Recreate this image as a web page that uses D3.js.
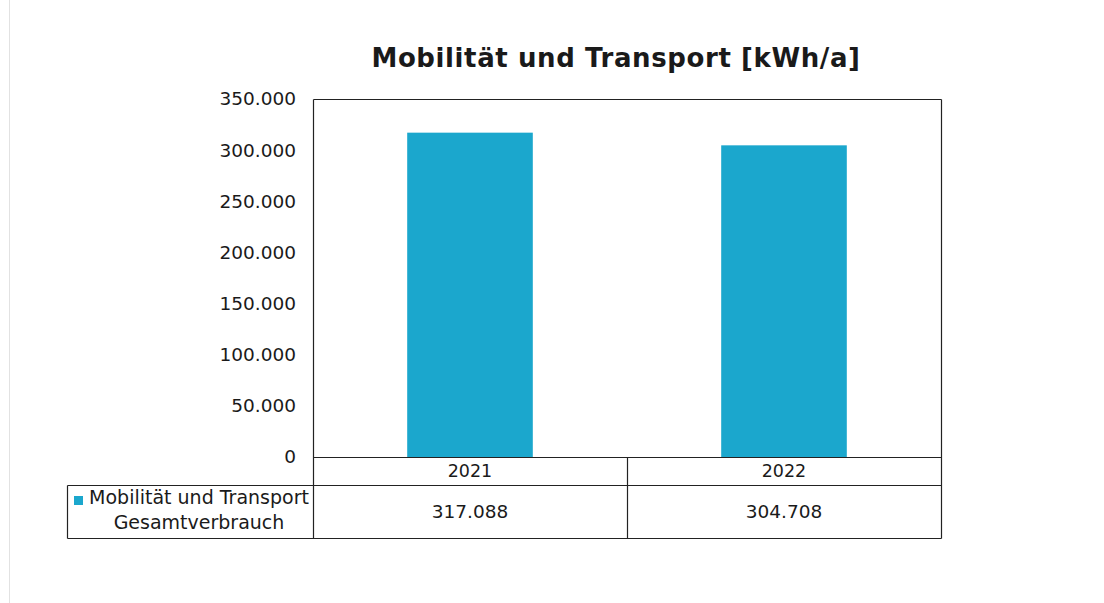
<!DOCTYPE html>
<html>
<head>
<meta charset="utf-8">
<script src="https://cdn.jsdelivr.net/npm/d3@7"></script>
<style>
  body { margin: 0; background: #fff; }
  text { font-family: "DejaVu Sans", Verdana, sans-serif; fill: #1a1a1a; }
</style>
</head>
<body>
<div id="chart"></div>
<script>
var years = ['2021', '2022'];
var values = [317088, 304708];
var seriesName = ['Mobilität und Transport', 'Gesamtverbrauch'];
var yTicks = [0, 50000, 100000, 150000, 200000, 250000, 300000, 350000];
var title = 'Mobilität und Transport [kWh/a]';

var width = 1104, height = 603;
var plot = { left: 313, top: 99, right: 941, bottom: 457 };
var tableLeft = 67, row1 = 485, row2 = 538;
var barColor = '#1ba7cd';

var fmt = function(v) { return d3.format(',')(v).replace(/,/g, '.'); };

var svg = d3.select('#chart').append('svg')
  .attr('width', width)
  .attr('height', height);

// faint page edge of the scan
svg.append('line')
  .attr('x1', 9.5).attr('x2', 9.5).attr('y1', 0).attr('y2', height)
  .style('stroke', '#e2e2e2');

var x = d3.scaleBand().domain(years).range([plot.left, plot.right]).paddingInner(0).paddingOuter(0);
var y = d3.scaleLinear().domain([0, 350000]).range([plot.bottom, plot.top]);

svg.append('text')
  .attr('x', 616).attr('y', 67)
  .attr('text-anchor', 'middle')
  .style('font-size', '26px')
  .style('font-weight', 'bold')
  .style('letter-spacing', '0.6px')
  .text(title);

// bars
var bw = x.bandwidth() * 0.4;
svg.selectAll('.bar')
  .data(values)
  .enter()
  .append('rect')
  .attr('class', 'bar')
  .attr('x', function(d, i) { return x(years[i]) + x.bandwidth() / 2 - bw / 2; })
  .attr('y', function(d) { return y(d); })
  .attr('width', bw)
  .attr('height', function(d) { return y(0) - y(d); })
  .attr('fill', barColor);

// y axis labels
var yAxis = d3.axisLeft(y).tickValues(yTicks).tickSize(0).tickPadding(17).tickFormat(fmt);
var ga = svg.append('g')
  .attr('transform', 'translate(' + plot.left + ',0)')
  .call(yAxis);
ga.select('.domain').remove();
ga.selectAll('text')
  .style('font-size', '18.5px')
  .style('font-family', '"DejaVu Sans", Verdana, sans-serif')
  .attr('fill', '#1a1a1a');

// frame and table lines
var stroke = '#222';
var lines = [
  [plot.left, plot.top, plot.right, plot.top],
  [plot.right, plot.top, plot.right, row2],
  [plot.left, plot.top, plot.left, row2],
  [plot.left, plot.bottom, plot.right, plot.bottom],
  [tableLeft, row1, plot.right, row1],
  [tableLeft, row2, plot.right, row2],
  [tableLeft, row1, tableLeft, row2]
];
years.forEach(function(yr) {
  var xe = x(yr) + x.bandwidth();
  if (xe < plot.right) lines.push([xe, plot.bottom, xe, row2]);
});
svg.selectAll('.grid')
  .data(lines)
  .enter()
  .append('line')
  .attr('x1', function(d) { return Math.round(d[0]) + 0.5; })
  .attr('y1', function(d) { return Math.round(d[1]) + 0.5; })
  .attr('x2', function(d) { return Math.round(d[2]) + 0.5; })
  .attr('y2', function(d) { return Math.round(d[3]) + 0.5; })
  .style('stroke', stroke)
  .style('stroke-width', 1.2);

// table row 1: years
svg.selectAll('.year')
  .data(years)
  .enter()
  .append('text')
  .attr('x', function(d) { return x(d) + x.bandwidth() / 2; })
  .attr('y', 477)
  .attr('text-anchor', 'middle')
  .style('font-size', '17.5px')
  .text(function(d) { return d; });

// table row 2: values
svg.selectAll('.val')
  .data(values)
  .enter()
  .append('text')
  .attr('x', function(d, i) { return x(years[i]) + x.bandwidth() / 2; })
  .attr('y', 518)
  .attr('text-anchor', 'middle')
  .style('font-size', '18.5px')
  .text(function(d) { return fmt(d); });

// legend cell
svg.append('rect')
  .attr('x', 74).attr('y', 496)
  .attr('width', 9).attr('height', 9)
  .attr('fill', barColor);
svg.append('text')
  .attr('x', 199).attr('y', 504)
  .attr('text-anchor', 'middle')
  .style('font-size', '19px')
  .text(seriesName[0]);
svg.append('text')
  .attr('x', 199).attr('y', 529)
  .attr('text-anchor', 'middle')
  .style('font-size', '19px')
  .text(seriesName[1]);
</script>
</body>
</html>
